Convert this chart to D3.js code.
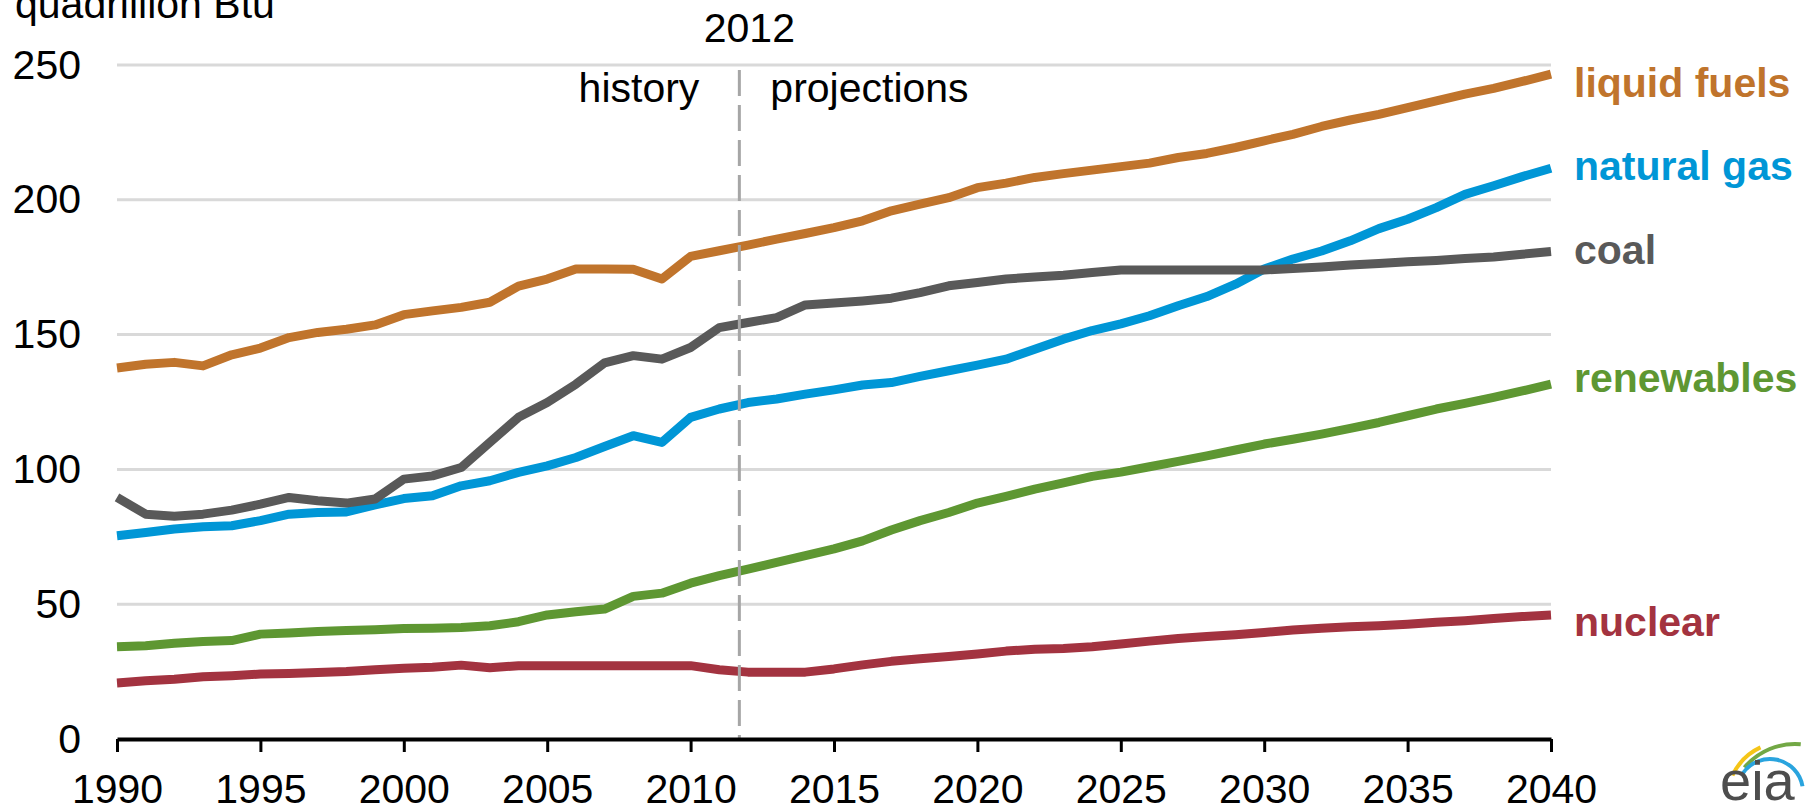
<!DOCTYPE html>
<html>
<head>
<meta charset="utf-8">
<script src="https://cdn.jsdelivr.net/npm/d3@7"></script>
<style>
    body { margin: 0; background: #fff; }
    svg { display: block; font-family: "Liberation Sans", Arial, sans-serif; }
</style>
</head>
<body>
<svg id="chart" width="1816" height="808"></svg>
<script>

// Data (quadrillion Btu), 1990-2040

var years = d3.range(1990, 2041);

var liquidFuels = [137.6, 139.0, 139.7, 138.4, 142.5, 145.0, 148.9, 150.8, 152.0, 153.6,
    157.4, 158.8, 160.1, 162.0, 168.0, 170.6, 174.3, 174.3, 174.2, 170.6,
    179.0, 181.1, 183.2, 185.4, 187.5, 189.7, 192.2, 195.9, 198.4, 200.8,
    204.5, 206.2, 208.3, 209.7, 211.0, 212.3, 213.6, 215.7, 217.2, 219.4,
    221.9, 224.3, 227.2, 229.6, 231.7, 234.2, 236.7, 239.2, 241.3, 243.9, 246.6];

var naturalGas = [75.4, 76.6, 77.9, 78.7, 79.1, 81.0, 83.4, 84.0, 84.2, 86.8,
    89.2, 90.2, 93.9, 95.8, 98.9, 101.3, 104.4, 108.5, 112.5, 110.0,
    119.3, 122.4, 124.8, 126.1, 127.9, 129.5, 131.3, 132.2, 134.5, 136.6,
    138.7, 140.9, 144.6, 148.3, 151.5, 154.0, 157.0, 160.7, 164.1, 168.7,
    174.3, 178.0, 181.0, 184.8, 189.3, 192.8, 197.1, 202.0, 205.2, 208.6, 211.7];

var coal = [89.6, 83.4, 82.6, 83.4, 84.9, 87.1, 89.6, 88.4, 87.5, 89.0,
    96.4, 97.6, 100.7, 110.0, 119.3, 124.8, 131.6, 139.5, 142.2, 140.9,
    145.2, 152.6, 154.5, 156.3, 161.0, 161.7, 162.5, 163.5, 165.6, 168.1,
    169.3, 170.6, 171.4, 172.0, 173.0, 174.0, 174.0, 174.0, 174.0, 174.0,
    174.0, 174.5, 175.1, 175.8, 176.4, 177.0, 177.5, 178.2, 178.8, 179.8, 180.8];

var renewables = [34.2, 34.6, 35.5, 36.2, 36.5, 38.9, 39.3, 39.9, 40.2, 40.5,
    41.0, 41.1, 41.4, 42.0, 43.5, 46.0, 47.2, 48.2, 52.9, 54.1,
    57.8, 60.6, 63.0, 65.5, 68.0, 70.5, 73.5, 77.5, 81.0, 84.0,
    87.5, 90.0, 92.7, 95.0, 97.4, 99.0, 101.0, 103.0, 105.0, 107.2,
    109.4, 111.2, 113.1, 115.2, 117.4, 119.9, 122.4, 124.5, 126.7, 129.1, 131.6];

var nuclear = [20.8, 21.6, 22.2, 23.1, 23.5, 24.1, 24.3, 24.7, 25.0, 25.7,
    26.2, 26.6, 27.4, 26.4, 27.2, 27.2, 27.2, 27.2, 27.2, 27.2,
    27.2, 25.7, 24.8, 24.8, 24.8, 26.0, 27.5, 28.8, 29.8, 30.6,
    31.5, 32.6, 33.3, 33.6, 34.2, 35.2, 36.3, 37.3, 38.0, 38.7,
    39.5, 40.4, 41.1, 41.6, 42.0, 42.6, 43.3, 43.9, 44.7, 45.4, 46.0];

var seriesNames = ["nuclear", "renewables", "natural gas", "coal", "liquid fuels"];
var seriesValues = [nuclear, renewables, naturalGas, coal, liquidFuels];

var xTicks = d3.range(1990, 2041, 5);
var yTicks = [0, 50, 100, 150, 200, 250];
var dividerYear = 2011.7;

// Styling

var colors = {
    "liquid fuels": "#c0742c",
    "natural gas": "#0096d6",
    "coal": "#595959",
    "renewables": "#5e9732",
    "nuclear": "#a33340"
};
// small vertical nudges (px) of the end labels
var labelDy = {
    "liquid fuels": 23,
    "natural gas": 12,
    "coal": 12,
    "renewables": 8,
    "nuclear": 21
};

var svg = d3.select("#chart");
var fontSize = 41;

var x = d3.scaleLinear().domain([1990, 2040]).range([117, 1551]);
var y = d3.scaleLinear().domain([0, 250]).range([739, 65]);

// Gridlines

svg.append("g")
    .selectAll("line")
    .data(yTicks.filter(d => d > 0))
    .join("line")
    .attr("x1", x(1990))
    .attr("x2", x(2040))
    .attr("y1", d => y(d))
    .attr("y2", d => y(d))
    .attr("stroke", "#d9d9d9")
    .attr("stroke-width", 3);

// Y axis labels

var yAxis = svg.append("g")
    .attr("transform", `translate(${x(1990)},0)`)
    .call(d3.axisLeft(y).tickValues(yTicks).tickSize(0).tickPadding(36));
yAxis.select(".domain").remove();
yAxis.selectAll("text")
    .attr("font-size", fontSize)
    .attr("font-family", "Liberation Sans, Arial, sans-serif")
    .attr("fill", "#000");

svg.append("text")
    .attr("x", 15)
    .attr("y", 18)
    .attr("font-size", fontSize)
    .attr("fill", "#000")
    .text("quadrillion Btu");

// Lines

var line = d3.line()
    .x((d, i) => x(years[i]))
    .y(d => y(d));

svg.append("g")
    .selectAll("path")
    .data(seriesValues)
    .join("path")
    .attr("d", d => line(d))
    .attr("fill", "none")
    .attr("stroke", (d, i) => colors[seriesNames[i]])
    .attr("stroke-width", 9)
    .attr("stroke-linejoin", "round");

// End labels

svg.append("g")
    .selectAll("text")
    .data(seriesNames)
    .join("text")
    .attr("x", 1574)
    .attr("y", (d, i) => y(seriesValues[i][seriesValues[i].length - 1]) + labelDy[d])
    .attr("font-size", fontSize)
    .attr("font-weight", "bold")
    .attr("fill", d => colors[d])
    .text(d => d);

// History / projections divider

var divX = x(dividerYear);

svg.append("line")
    .attr("x1", divX)
    .attr("x2", divX)
    .attr("y1", 70)
    .attr("y2", y(0))
    .attr("stroke", "#a6a6a6")
    .attr("stroke-width", 3)
    .attr("stroke-dasharray", "26,9");

svg.append("text")
    .attr("x", divX + 10)
    .attr("y", 42)
    .attr("text-anchor", "middle")
    .attr("font-size", fontSize)
    .attr("fill", "#000")
    .text("2012");

svg.append("text")
    .attr("x", divX - 40)
    .attr("y", 102)
    .attr("text-anchor", "end")
    .attr("font-size", fontSize)
    .attr("fill", "#000")
    .text("history");

svg.append("text")
    .attr("x", divX + 31)
    .attr("y", 102)
    .attr("font-size", fontSize)
    .attr("fill", "#000")
    .text("projections");

// X axis

var xAxis = svg.append("g")
    .attr("transform", `translate(0,${y(0)})`)
    .call(d3.axisBottom(x).tickValues(xTicks).tickFormat(d3.format("d"))
        .tickSize(13).tickSizeOuter(0).tickPadding(22));
xAxis.select(".domain")
    .attr("stroke", "#000")
    .attr("stroke-width", 4);
xAxis.selectAll(".tick line")
    .attr("stroke", "#000")
    .attr("stroke-width", 3);
xAxis.selectAll("text")
    .attr("font-size", fontSize)
    .attr("font-family", "Liberation Sans, Arial, sans-serif")
    .attr("fill", "#000");

// eia logo

var logo = svg.append("g");
var arcs = [
    { cx: 1785, cy: 800, r: 58, a0: 205, a1: 245, color: "#f5c518" },
    { cx: 1795, cy: 810, r: 66, a0: 220, a1: 275, color: "#72a845" },
    { cx: 1770, cy: 792, r: 33, a0: 215, a1: 350, color: "#2aa4de" }
];
arcs.forEach(a => {
    var p = d3.path();
    p.arc(a.cx, a.cy, a.r, a.a0 * Math.PI / 180, a.a1 * Math.PI / 180);
    logo.append("path")
        .attr("d", p.toString())
        .attr("fill", "none")
        .attr("stroke", a.color)
        .attr("stroke-width", 4);
});
logo.append("text")
    .attr("x", 1720)
    .attr("y", 800)
    .attr("font-size", 56)
    .attr("fill", "#4d4d4d")
    .text("eia");

</script>
</body>
</html>
